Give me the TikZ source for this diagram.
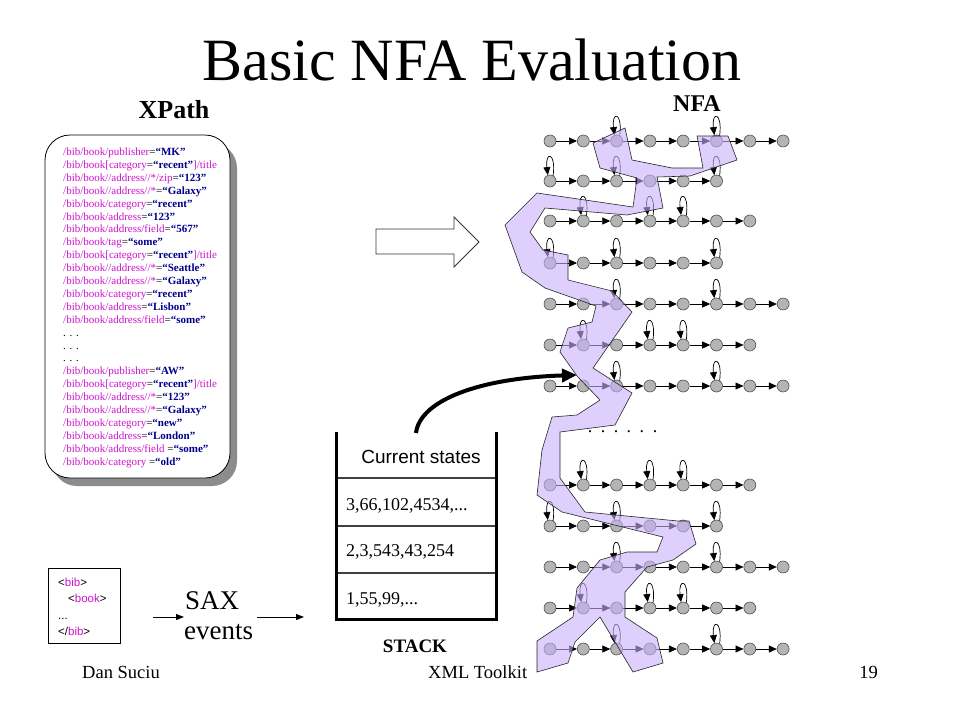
\documentclass[tikz,border=0pt]{standalone}
\usepackage{fontspec}
\setmainfont{Liberation Serif}
\newfontfamily\arialf{Liberation Sans}
\usetikzlibrary{arrows.meta}
\definecolor{xmag}{RGB}{204,20,204}
\definecolor{xnavy}{RGB}{0,0,140}
\definecolor{ngray}{RGB}{180,180,180}
\definecolor{lav}{RGB}{200,175,250}
\newcommand\xpth[1]{\textcolor{xmag}{#1}}
\newcommand\xval[1]{\textcolor{xnavy}{\textbf{#1}}}
\newcommand\nfarow[4]{%
  \foreach \c in {0,...,#3}{\node[st] (q#1-\c) at (550+33.3*\c,#2) {};}
  \foreach \c [remember=\c as \pc (initially 0)] in {1,...,#3}{\draw[ed] (q#1-\pc) -- (q#1-\c);}
  \foreach \c in {#4}{\draw[ed] (q#1-\c.60) .. controls +(3pt,24pt) and +(-3pt,24pt) .. (q#1-\c.110);}
}
\begin{document}
\begin{tikzpicture}[x=1pt,y=-1pt,
  st/.style={circle,fill=ngray,draw=black!70,line width=0.6pt,minimum size=12pt,inner sep=0pt},
  ed/.style={-{Triangle[length=8pt,width=7pt]},line width=0.7pt},
  xpl/.style={anchor=base west,inner sep=0pt,font=\fontsize{11}{12}\selectfont},
  xmlt/.style={anchor=base west,inner sep=0pt,font=\arialf\fontsize{11.5}{13}\selectfont},
  numt/.style={anchor=base west,inner sep=0pt,font=\fontsize{18}{20}\selectfont},
  foot/.style={inner sep=0pt,font=\fontsize{18.5}{20}\selectfont},
  thin/.style={-{Triangle[length=8pt,width=6pt]},line width=0.9pt}
]
\fill[white] (0,0) rectangle (960,720);
\useasboundingbox (0,0) rectangle (960,720);

% title and headings
\node[anchor=base,inner sep=0pt,font=\fontsize{60}{60}\selectfont] (title) at (472,80) {Basic NFA Evaluation};
\node[anchor=base,inner sep=0pt,font=\bfseries\fontsize{26}{26}\selectfont] (xpath) at (174,118) {XPath};
\node[anchor=base,inner sep=0pt,font=\bfseries\fontsize{24}{24}\selectfont] (nfa) at (697,111) {NFA};

% XPath box
\fill[black!45, rounded corners=25pt] (52,143) rectangle (237,486);
\draw[fill=white, line width=0.8pt, rounded corners=25pt] (45,135) rectangle (230,478);
\foreach \t [count=\i from 0] in {
 {\xpth{/bib/book/publisher}=\xval{“MK”}},
 {\xpth{/bib/book[category}=\xval{“recent”}\xpth{]/title}},
 {\xpth{/bib/book//address//*/zip}=\xval{“123”}},
 {\xpth{/bib/book//address//*}=\xval{“Galaxy”}},
 {\xpth{/bib/book/category}=\xval{“recent”}},
 {\xpth{/bib/book/address}=\xval{“123”}},
 {\xpth{/bib/book/address/field}=\xval{“567”}},
 {\xpth{/bib/book/tag}=\xval{“some”}},
 {\xpth{/bib/book[category}=\xval{“recent”}\xpth{]/title}},
 {\xpth{/bib/book//address//*}=\xval{“Seattle”}},
 {\xpth{/bib/book//address//*}=\xval{“Galaxy”}},
 {\xpth{/bib/book/category}=\xval{“recent”}},
 {\xpth{/bib/book/address}=\xval{“Lisbon”}},
 {\xpth{/bib/book/address/field}=\xval{“some”}},
 {. . .},
 {. . .},
 {. . .},
 {\xpth{/bib/book/publisher}=\xval{“AW”}},
 {\xpth{/bib/book[category}=\xval{“recent”}\xpth{]/title}},
 {\xpth{/bib/book//address//*}=\xval{“123”}},
 {\xpth{/bib/book//address//*}=\xval{“Galaxy”}},
 {\xpth{/bib/book/category}=\xval{“new”}},
 {\xpth{/bib/book/address}=\xval{“London”}},
 {\xpth{/bib/book/address/field }=\xval{“some”}},
 {\xpth{/bib/book/category }=\xval{“old”}}
}{\node[xpl] (xp\i) at (63,155.5+12.9*\i) {\t};}

% hollow arrow
\draw[line width=0.8pt, draw=black!80, fill=white] (376,229) -- (454,229) -- (454,217) -- (479,242) -- (454,267) -- (454,254) -- (376,254) -- cycle;

% NFA rows
\nfarow{1}{141}{7}{2,5}
\nfarow{2}{181}{5}{0,2,5}
\nfarow{3}{221}{6}{1,3,4}
\nfarow{4}{263}{5}{0,2,5}
\nfarow{5}{304}{7}{2,5}
\nfarow{6}{345}{6}{1,3,4}
\nfarow{7}{386}{7}{2,5}
\nfarow{8}{485}{6}{1,3,4}
\nfarow{9}{526}{5}{0,2,5}
\nfarow{10}{567}{7}{2,5}
\nfarow{11}{608}{6}{1,3,4}
\nfarow{12}{649}{7}{2,5}

% purple active-state region
\draw[fill=lav, fill opacity=0.6, draw=black!85, line width=0.6pt]
 (593,143) -- (625,128) -- (632,160) -- (672,168) -- (703,168) -- (697,136) -- (728,136)
 -- (737,160) -- (690,176) -- (657,177) -- (663,208) -- (627,215) -- (545,208) -- (530,232)
 -- (543,250) -- (568,255) -- (568,280) -- (612,291) -- (632,312) -- (593,368) -- (632,393)
 -- (615,425) -- (560,432) -- (560,478) -- (585,512) -- (678,521) -- (689,521) -- (696,544)
 -- (673,560) -- (647,567) -- (625,592) -- (625,617) -- (657,638) -- (663,663) -- (633,672)
 -- (600,617) -- (575,642) -- (568,663) -- (537,672) -- (537,641) -- (573,617) -- (577,588)
 -- (600,560) -- (627,552) -- (657,552) -- (663,537) -- (562,512) -- (537,495) -- (542,450)
 -- (552,417) -- (577,415) -- (600,400) -- (577,376) -- (560,352) -- (568,328) -- (592,322)
 -- (596,306) -- (545,288) -- (522,272) -- (505,225) -- (537,193) -- (633,207) -- (637,178)
 -- (600,168) -- cycle;

\node[anchor=base,inner sep=0pt,font=\fontsize{18}{18}\selectfont] (dots) at (622.5,432)
 {.\hspace{8.5pt}.\hspace{8.5pt}.\hspace{8.5pt}.\hspace{8.5pt}.\hspace{8.5pt}.};

% stack
\draw[line width=3pt] (336,432) -- (336,619) -- (496,619) -- (496,432);
\foreach \yy in {478,526,573}{\draw[line width=1.5pt, black!75] (337.5,\yy) -- (494.5,\yy);}
\node[inner sep=0pt,font=\arialf\fontsize{19}{22}\selectfont] (cs) at (421,457) {Current states};
\node[numt] (s1) at (346,510) {3,66,102,4534,...};
\node[numt] (s2) at (346,556) {2,3,543,43,254};
\node[numt] (s3) at (346,604) {1,55,99,...};
\node[anchor=base,inner sep=0pt,font=\bfseries\fontsize{19}{20}\selectfont] (stk) at (415,652) {STACK};

% thick pointer
\coordinate (pfrom) at (416,433);
\coordinate (pto) at (577,375);
\draw[line width=4pt, -{Triangle[length=15pt,width=13pt]}] (pfrom) .. controls (420,400) and (480,378) .. (pto);

% XML document box
\node[draw, line width=0.8pt, minimum width=72pt, minimum height=75pt, inner sep=0pt] (xml) at (84.5,606) {};
\node[xmlt] (x1) at (58,586) {<\xpth{bib}>};
\node[xmlt] (x2) at (68,602) {<\xpth{book}>};
\node[xmlt] (x3) at (58,619) {...};
\node[xmlt] (x4) at (58,635) {</\xpth{bib}>};

\node[anchor=base west,inner sep=0pt,font=\fontsize{27}{28}\selectfont] (sax) at (185,609) {SAX};
\node[anchor=base west,inner sep=0pt,font=\fontsize{27}{28}\selectfont] (ev) at (184,639) {events};
\coordinate (a1s) at (153,617);
\coordinate (a1e) at (184,617);
\coordinate (a2s) at (257,617);
\coordinate (a2e) at (304,617);
\draw[thin] (a1s) -- (a1e);
\draw[thin] (a2s) -- (a2e);

% footer
\node[foot,anchor=base west] (f1) at (82,678) {Dan Suciu};
\node[foot,anchor=base west] (f2) at (428,678) {XML Toolkit};
\node[foot,anchor=base east] (f3) at (878,678) {19};
\end{tikzpicture}
\end{document}
